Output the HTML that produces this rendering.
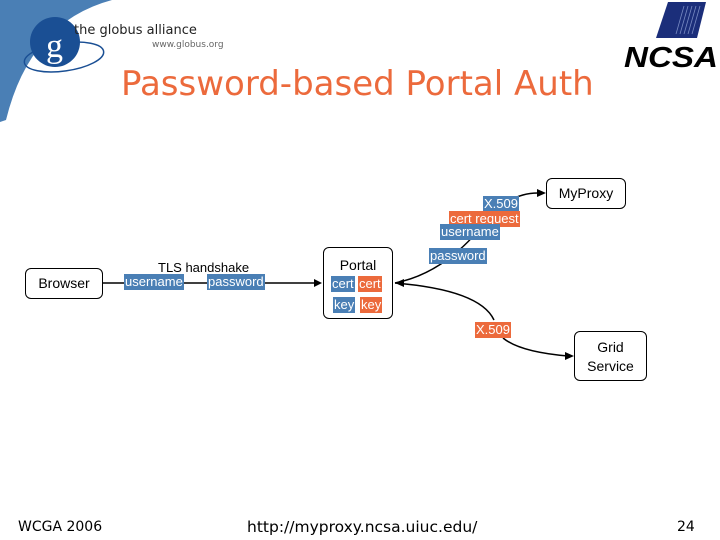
<!DOCTYPE html>
<html><head><meta charset="utf-8"><style>
body{margin:0;width:720px;height:540px;background:#fff;overflow:hidden;position:relative;font-family:"Liberation Sans","DejaVu Sans",sans-serif}
.a{position:absolute;white-space:nowrap}
.b{position:absolute;border:1px solid #000;border-radius:6px;background:#fff;box-sizing:border-box;text-align:center;font-size:14px;color:#000}
.l{position:absolute;color:#fff;font-size:13px;line-height:16px;padding:0 1px;white-space:nowrap}
.bl{background:#4a7fb5}.or{background:#ec6a3c}
</style></head><body>
<svg class="a" style="left:0;top:0" width="720" height="540">
<path d="M0,0 L112,0 Q30,22 6,120 L0,122 Z" fill="#4a7fb5"/>
<ellipse cx="64" cy="57" rx="40" ry="14" transform="rotate(-8 64 57)" fill="none" stroke="#1a4f94" stroke-width="1.5"/>
<circle cx="55" cy="42" r="25" fill="#1a4f94"/>
<text x="46" y="57" font-family="Liberation Serif,serif" font-size="34" fill="#fff">g</text>
<text x="74" y="34" font-family="DejaVu Sans,sans-serif" font-size="13" fill="#222">the globus alliance</text>
<text x="152" y="47" font-family="DejaVu Sans,sans-serif" font-size="9" fill="#666">www.globus.org</text>
<polygon points="668,2 706,2 697,38 656,38" fill="#1b2e7a"/>
<g stroke="#9fb0e0" stroke-width="0.8" opacity="0.7">
<line x1="684" y1="6" x2="676" y2="34"/><line x1="688" y1="6" x2="680" y2="34"/><line x1="692" y1="6" x2="684" y2="34"/><line x1="696" y1="6" x2="688" y2="34"/><line x1="700" y1="6" x2="692" y2="34"/>
</g>
<text x="624" y="67" font-family="Liberation Sans,sans-serif" font-weight="bold" font-style="italic" font-size="29" fill="#000" textLength="94" lengthAdjust="spacingAndGlyphs">NCSA</text>
<g stroke="#000" stroke-width="1.5" fill="none">
<line x1="103" y1="283" x2="318" y2="283"/>
<path d="M395,283 Q450,272 492,213 Q515,192 540,193"/>
<path d="M395,283 Q480,290 494,320 M503,338 Q520,352 568,356"/>
</g>
<polygon points="322,283 314,279 314,287" fill="#000"/>
<polygon points="546,193 537,189 537,197" fill="#000"/>
<polygon points="395,283 404,279 404,287" fill="#000"/>
<polygon points="574,356 565,352 565,360" fill="#000"/>
</svg>
<div class="a" style="left:121px;top:64px;font-size:34px;color:#ec6a3c;font-family:'DejaVu Sans',sans-serif">Password-based Portal Auth</div>
<div class="b" style="left:25px;top:268px;width:78px;height:31px;line-height:29px">Browser</div>
<div class="a" style="left:158px;top:260px;font-size:13px">TLS handshake</div>
<div class="l bl" style="left:124px;top:274px">username</div>
<div class="l bl" style="left:207px;top:274px">password</div>
<div class="b" style="left:323px;top:247px;width:70px;height:72px;padding-top:9px;line-height:16px">Portal</div>
<div class="l bl" style="left:331px;top:276px">cert</div>
<div class="l or" style="left:358px;top:276px">cert</div>
<div class="l bl" style="left:333px;top:297px">key</div>
<div class="l or" style="left:360px;top:297px">key</div>
<div class="b" style="left:546px;top:178px;width:80px;height:31px;line-height:29px">MyProxy</div>
<div class="l bl" style="left:483px;top:196px">X.509</div>
<div class="l or" style="left:449px;top:211px">cert request</div>
<div class="l bl" style="left:440px;top:224px">username</div>
<div class="l bl" style="left:429px;top:248px">password</div>
<div class="l or" style="left:475px;top:322px">X.509</div>
<div class="b" style="left:574px;top:331px;width:73px;height:50px;padding-top:6px;line-height:19px">Grid<br>Service</div>
<div class="a" style="left:18px;top:519px;font-size:14px;font-family:'DejaVu Sans',sans-serif">WCGA 2006</div>
<div class="a" style="left:247px;top:518px;font-size:15.5px;font-family:'DejaVu Sans',sans-serif">http://myproxy.ncsa.uiuc.edu/</div>
<div class="a" style="left:677px;top:519px;font-size:14px;font-family:'DejaVu Sans',sans-serif">24</div>
</body></html>
